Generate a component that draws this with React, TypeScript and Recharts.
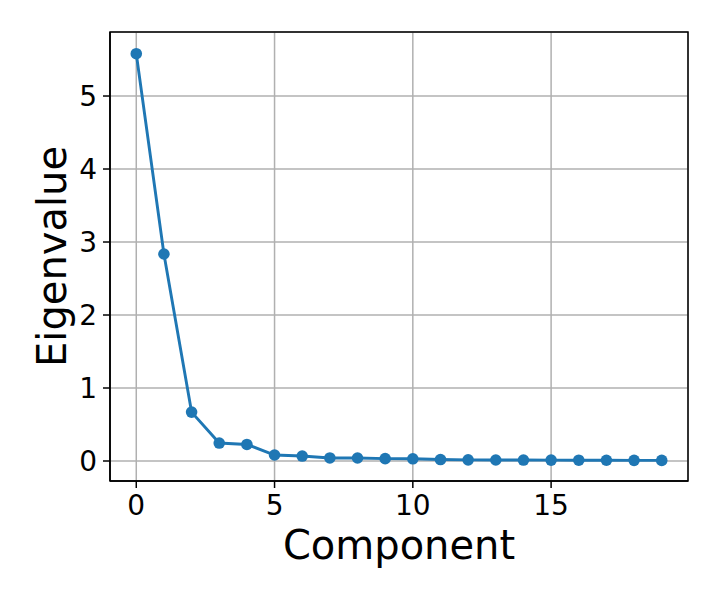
import {
  LineChart,
  Line,
  XAxis,
  YAxis,
  CartesianGrid,
  ReferenceArea,
} from 'recharts';

// eigenvalues
const components = [0, 1, 2, 3, 4, 5, 6, 7, 8, 9, 10, 11, 12, 13, 14, 15, 16, 17, 18, 19];
const eigenvalues = [
  5.58, 2.836, 0.67, 0.246, 0.227, 0.082, 0.068, 0.042, 0.041, 0.032,
  0.03, 0.02, 0.016, 0.014, 0.013, 0.012, 0.011, 0.01, 0.009, 0.008,
];
const xTicks = [0, 5, 10, 15];
const yTicks = [0, 1, 2, 3, 4, 5];

const X_DOMAIN: [number, number] = [-0.95, 19.95];
const Y_DOMAIN: [number, number] = [-0.274, 5.877];

const FONT = '"DejaVu Sans", sans-serif';
const BLUE = '#1f77b4';
const TICK_FONT = 28;
const LABEL_FONT = 40;

const data = components.map((c, i) => ({ component: c, value: eigenvalues[i] }));

/** x-axis title, centred under the plot area */
function XTitle({ viewBox }: { viewBox?: any }) {
  if (!viewBox) return null;
  const cx = viewBox.x + viewBox.width / 2;
  return (
    <text x={cx} y={viewBox.y + 78} textAnchor="middle" fill="#000" fontSize={LABEL_FONT} fontFamily={FONT}>
      Component
    </text>
  );
}

/** y-axis title, rotated, baseline near the tick labels */
function YTitle({ viewBox }: { viewBox?: any }) {
  if (!viewBox) return null;
  const x = 66;
  const y = viewBox.y + viewBox.height / 2;
  return (
    <text
      x={x}
      y={y}
      transform={`rotate(-90, ${x}, ${y})`}
      textAnchor="middle"
      fill="#000"
      fontSize={LABEL_FONT}
      fontFamily={FONT}
    >
      Eigenvalue
    </text>
  );
}

export default function App() {
  return (
    <div style={{ position: 'absolute', left: 0, top: 0, width: 720, height: 600, background: '#fff' }}>
      <LineChart
        width={720}
        height={600}
        data={data}
        margin={{ top: 32, right: 32, left: 0, bottom: 0 }}
        style={{ fontFamily: FONT }}
      >
        <CartesianGrid stroke="#b0b0b0" strokeWidth={1.5} />
        <XAxis
          dataKey="component"
          type="number"
          domain={X_DOMAIN}
          ticks={xTicks}
          height={119}
          tickSize={7}
          tickMargin={7}
          axisLine={{ stroke: '#000', strokeWidth: 1.5 }}
          tickLine={{ stroke: '#000', strokeWidth: 1.5 }}
          tick={{ fill: '#000', fontSize: TICK_FONT, fontFamily: FONT }}
          label={<XTitle />}
        />
        <YAxis
          type="number"
          domain={Y_DOMAIN}
          ticks={yTicks}
          width={110}
          tickSize={7}
          tickMargin={6}
          axisLine={{ stroke: '#000', strokeWidth: 1.5 }}
          tickLine={{ stroke: '#000', strokeWidth: 1.5 }}
          tick={{ fill: '#000', fontSize: TICK_FONT, fontFamily: FONT }}
          label={<YTitle />}
        />
        <Line
          dataKey="value"
          stroke={BLUE}
          strokeWidth={2.9}
          dot={{ r: 5.8, fill: BLUE, stroke: BLUE, strokeWidth: 0 }}
          activeDot={false}
          isAnimationActive={false}
        />
        <ReferenceArea
          x1={X_DOMAIN[0]}
          x2={X_DOMAIN[1]}
          y1={Y_DOMAIN[0]}
          y2={Y_DOMAIN[1]}
          fill="none"
          stroke="#000"
          strokeWidth={1.5}
          ifOverflow="visible"
        />
      </LineChart>
    </div>
  );
}
